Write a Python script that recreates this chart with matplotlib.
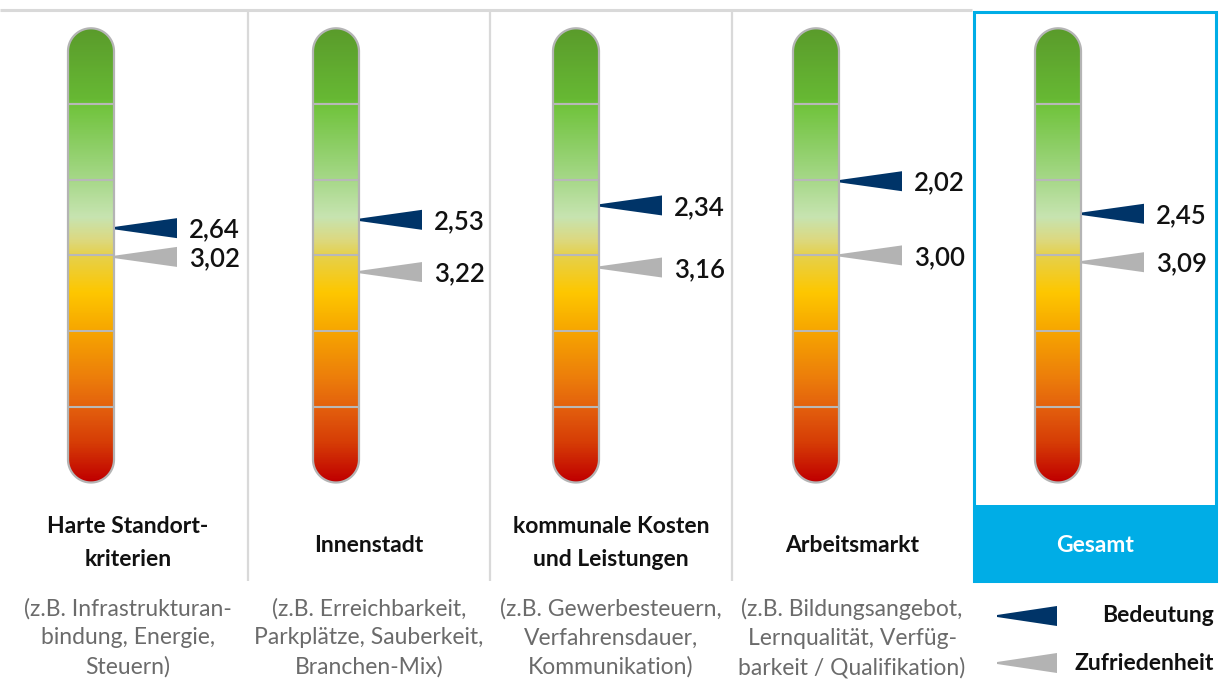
import numpy as np
import matplotlib
matplotlib.use("Agg")
import matplotlib.pyplot as plt
from matplotlib.colors import LinearSegmentedColormap
from matplotlib.patches import Polygon, Rectangle

# ---------------- data ----------------
categories = ["Harte Standort-\nkriterien", "Innenstadt", "kommunale Kosten\nund Leistungen",
              "Arbeitsmarkt", "Gesamt"]
examples = ["(z.B. Infrastrukturan-\nbindung, Energie,\nSteuern)",
            "(z.B. Erreichbarkeit,\nParkplätze, Sauberkeit,\nBranchen-Mix)",
            "(z.B. Gewerbesteuern,\nVerfahrensdauer,\nKommunikation)",
            "(z.B. Bildungsangebot,\nLernqualität, Verfüg-\nbarkeit / Qualifikation)"]
bedeutung = [2.64, 2.53, 2.34, 2.02, 2.45]
zufriedenheit = [3.02, 3.22, 3.16, 3.00, 3.09]
scale_min, scale_max = 0, 6
scale_lines = [1, 2, 3, 4, 5]
legend_labels = ["Bedeutung", "Zufriedenheit"]

# ---------------- style ----------------
FONT = ["Lato", "DejaVu Sans"]
plt.rcParams["font.family"] = FONT
C_DARK = "#003468"
C_GRAY = "#b3b3b3"
C_BLUE = "#00ade6"
C_LINE = "#d9d9d9"

grad_stops = [(0.0, "#5a9b2b"), (0.95 / 6, "#67b934"), (1.0 / 6, "#6fc33a"),
              (1.6 / 6, "#8fcf69"), (2.0 / 6, "#a6d888"), (2.5 / 6, "#c7e4b1"),
              (2.8 / 6, "#dcd981"), (3.0 / 6, "#e5d14e"), (3.5 / 6, "#fec700"),
              (4.0 / 6, "#f7a600"), (4.6 / 6, "#ed800a"), (5.0 / 6, "#e4620e"),
              (5.5 / 6, "#d63c06"), (1.0, "#c00000")]
cmap = LinearSegmentedColormap.from_list("thermo", grad_stops)

W, H = 1224, 680
fig = plt.figure(figsize=(W / 100, H / 100), dpi=100)

# pixel-space layer for frame, labels and legend
ax_px = fig.add_axes([0, 0, 1, 1])
ax_px.set_xlim(0, W)
ax_px.set_ylim(H, 0)
ax_px.axis("off")

# value-space layer: y axis is the rating scale
TOP, BOT = 28.3, 482.5
U = (BOT - TOP) / (scale_max - scale_min)
ax = fig.add_axes([0, 0, 1, 1])
ax.patch.set_alpha(0)
ax.axis("off")
ax.set_xlim(0, W)
ax.set_ylim(scale_max + (H - BOT) / U, scale_min - TOP / U)

panel_edges = [0, 248, 490, 732, 973, 1217]
bar_cx = [91, 336, 576, 816, 1058]
label_cx = [128, 369, 611, 852, 1095]
R = 23  # half width of bar (px)

# frame
ax_px.plot([0, 972], [10, 10], color=C_LINE, lw=2.2, solid_capstyle="butt")
for x in panel_edges[1:4]:
    ax_px.plot([x, x], [10, 581], color=C_LINE, lw=1.6, solid_capstyle="butt")
ax_px.add_patch(Rectangle((973, 505), 244, 76, facecolor=C_BLUE, edgecolor="none"))
ax_px.add_patch(Rectangle((974, 11.5), 242, 569, facecolor="none", edgecolor=C_BLUE, lw=2.2))

grad = np.linspace(0, 1, 600).reshape(-1, 1)
ry = R / U
t1 = np.linspace(0, np.pi, 60)
t2 = np.linspace(np.pi, 2 * np.pi, 60)

for i, cx in enumerate(bar_cx):
    top_arc = np.column_stack([cx + R * np.cos(t1), (scale_min + ry) - ry * np.sin(t1)])
    bot_arc = np.column_stack([cx + R * np.cos(t2), (scale_max - ry) - ry * np.sin(t2)])
    outline = np.vstack([top_arc, bot_arc])
    clip = Polygon(outline, closed=True, facecolor="none", edgecolor="none", transform=ax.transData)
    ax.add_patch(clip)
    im = ax.imshow(grad, cmap=cmap, aspect="auto", interpolation="bilinear",
                   extent=[cx - R, cx + R, scale_max, scale_min], origin="upper", zorder=2)
    im.set_clip_path(clip)
    ax.hlines(scale_lines, cx - R, cx + R, colors="#b8b8b8", lw=1.5, zorder=3)
    ax.add_patch(Polygon(outline, closed=True, facecolor="none", edgecolor="#b4b4b4",
                         lw=1.6, zorder=4))

    # markers
    tip = cx + R + 1
    right = cx + R + 63
    hh = 10 / U
    th = 1.3 / U
    for val, col in ((bedeutung[i], C_DARK), (zufriedenheit[i], C_GRAY)):
        ax.add_patch(Polygon([(tip, val - th), (right, val - hh), (right, val + hh), (tip, val + th)],
                             closed=True, facecolor=col, edgecolor="none", zorder=5))
        ax.text(cx + R + 75, val + 2 / U, f"{val:.2f}".replace(".", ","), ha="left", va="center",
                fontsize=18.5, fontweight="semibold", color="#111111", zorder=6)

# category labels
for i, lab in enumerate(categories):
    last = i == len(categories) - 1
    ax_px.text(label_cx[i], 545 if "\n" not in lab else 543, lab, ha="center", va="center",
               fontsize=16.5, fontweight="bold", color="white" if last else "#111111",
               linespacing=1.75)

# example descriptions
for i, ex in enumerate(examples):
    ax_px.text(label_cx[i], 638, ex, ha="center", va="center", fontsize=16.5,
               color="#6b6b6b", linespacing=1.45)

# legend
for (ly, col, lab) in ((616, C_DARK, legend_labels[0]), (663, C_GRAY, legend_labels[1])):
    ax_px.add_patch(Polygon([(997, ly - 1), (1057, ly - 10), (1057, ly + 10), (997, ly + 1)],
                            closed=True, facecolor=col, edgecolor="none"))
    ax_px.text(1214, ly, lab, ha="right", va="center", fontsize=16.5,
               fontweight="bold", color="#111111")

fig.savefig("out.png", dpi=100)
